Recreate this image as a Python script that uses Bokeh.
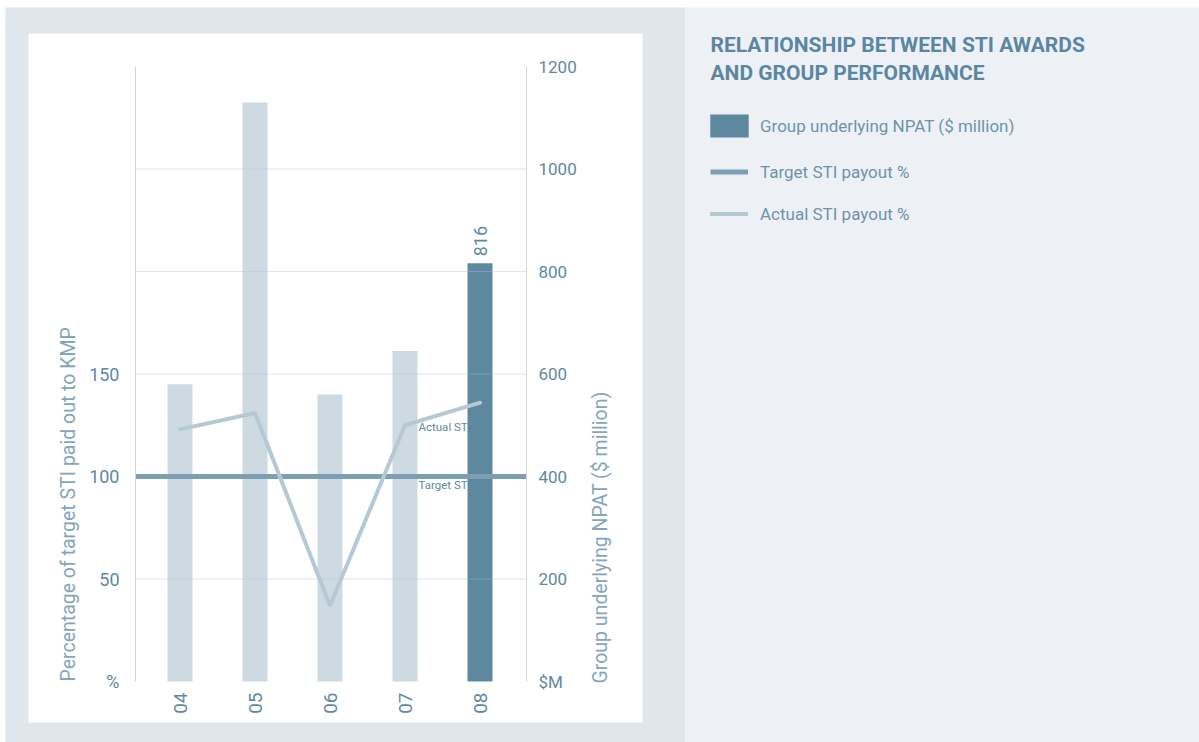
import math
from bokeh.plotting import figure
from bokeh.models import (Range1d, LinearAxis, FixedTicker, Label,
                          BoxAnnotation, Legend, LegendItem, ColumnDataSource)
from bokeh.embed import file_html
from bokeh.resources import INLINE

# ---------------- data ----------------
years = ["04", "05", "06", "07", "08"]
npat = [580, 1130, 560, 645, 816]            # Group underlying NPAT ($ million)
actual_sti = [123, 131, 37, 125, 136]        # Actual STI payout %
target_sti = [100, 100, 100, 100, 100]       # Target STI payout %
highlight_year = "08"
npat_ticks = [0, 200, 400, 600, 800, 1000, 1200]
npat_tick_labels = ["$M", "200", "400", "600", "800", "1000", "1200"]
pct_ticks = [0, 50, 100, 150]
pct_tick_labels = ["%", "50", "100", "150"]
pct_max = 300                                 # left scale top (matches 1200 on right)

# ---------------- style / layout ----------------
FONT = "Roboto"
OUTER = "#dfe6ec"
PANEL_R = "#edf1f5"
BAR_LIGHT = "#cddae2"
BAR_DARK = "#5e87a0"
TARGET_C = "#7c9fb4"
ACTUAL_C = "#b5c9d5"
GRID_C = "#b0c4d0"
AXIS_C = "#c9d6df"
TICK_C = "#5f88a2"
AXLAB_C = "#84a5ba"
TITLE_C = "#5b86a2"
LEG_C = "#6d93ab"

W, H = 1199, 742
CAT0_PX, CAT_STEP_PX = 179.5, 75.0      # pixel centre of first category, spacing
AX_L_PX, AX_R_PX = 135.0, 526.0         # left / right axis lines
Y0_PX, YTOP_PX = 681.0, 66.0            # pixel of 0 and of top tick

x_start = -CAT0_PX / CAT_STEP_PX
x_end = (W - CAT0_PX) / CAT_STEP_PX
ax_left = (AX_L_PX - CAT0_PX) / CAT_STEP_PX
ax_right = (AX_R_PX - CAT0_PX) / CAT_STEP_PX
y_per_px = npat_ticks[-1] / (Y0_PX - YTOP_PX)
y_start = -(H - Y0_PX) * y_per_px
y_end = Y0_PX * y_per_px
pct_scale = pct_max / npat_ticks[-1]

p = figure(width=W, height=H, output_backend="svg", toolbar_location=None,
           x_range=Range1d(x_start, x_end), y_range=Range1d(y_start, y_end),
           y_axis_location="right", min_border=0,
           min_border_left=0, min_border_right=0, min_border_top=0, min_border_bottom=0,
           border_fill_color="white", background_fill_color="white",
           outline_line_color=None)
p.title.visible = False
p.extra_y_ranges = {"pct": Range1d(y_start * pct_scale, y_end * pct_scale),
                    "py": Range1d(H, 0)}
p.extra_x_ranges = {"px": Range1d(0, W)}

# background panels (pixel ranges)
def panel(x0, y0, x1, y1, color):
    p.add_layout(BoxAnnotation(left=x0, right=x1, top=y0, bottom=y1,
                               x_range_name="px", y_range_name="py",
                               fill_color=color, fill_alpha=1.0, line_color=None,
                               level="image"))

panel(5, 7, 685, H, OUTER)
panel(28, 33, 642, 722, "white")
panel(685, 7, W, H, PANEL_R)

# ---------------- glyphs ----------------
xs = list(range(len(years)))
colors = [BAR_DARK if y == highlight_year else BAR_LIGHT for y in years]
src = ColumnDataSource(dict(x=xs, year=years, npat=npat, actual=actual_sti,
                            target=target_sti, color=colors))

bars = p.vbar(x="x", top="npat", width=0.333, fill_color="color", line_color=None, source=src)

grid_src = ColumnDataSource(dict(y=npat_ticks[1:-1]))
p.segment(x0=ax_left, x1=ax_right, y0="y", y1="y", source=grid_src,
          line_color=GRID_C, line_alpha=0.4, line_width=1)

target_r = p.segment(x0=ax_left, x1=ax_right, y0=target_sti[0], y1=target_sti[0],
                     y_range_name="pct", line_color=TARGET_C, line_width=5)
actual_r = p.line(x="x", y="actual", y_range_name="pct", line_color=ACTUAL_C,
                  line_width=4, line_cap="round", source=src)

# ---------------- axes ----------------
p.xgrid.visible = False
p.ygrid.visible = False

ra = p.yaxis[0]
ra.ticker = FixedTicker(ticks=npat_ticks)
ra.major_label_overrides = {t: l for t, l in zip(npat_ticks, npat_tick_labels)}
ra.fixed_location = ax_right
ra.bounds = (npat_ticks[0], npat_ticks[-1])
ra.axis_line_color = AXIS_C
ra.major_tick_line_color = None
ra.minor_tick_line_color = None
ra.major_label_text_color = TICK_C
ra.major_label_text_font = FONT
ra.major_label_text_font_size = "17px"
ra.major_label_text_baseline = "alphabetic"
ra.major_label_standoff = 6

la = LinearAxis(y_range_name="pct", ticker=FixedTicker(ticks=pct_ticks))
la.major_label_overrides = {t: l for t, l in zip(pct_ticks, pct_tick_labels)}
la.fixed_location = ax_left
la.bounds = (0, pct_max)
la.axis_line_color = AXIS_C
la.major_tick_line_color = None
la.minor_tick_line_color = None
la.major_label_text_color = TICK_C
la.major_label_text_font = FONT
la.major_label_text_font_size = "18px"
la.major_label_standoff = 10
p.add_layout(la, "left")

xa = p.xaxis[0]
xa.ticker = FixedTicker(ticks=xs)
xa.major_label_overrides = {i: y for i, y in zip(xs, years)}
xa.fixed_location = 0
xa.major_label_orientation = math.pi / 2
xa.axis_line_color = None
xa.major_tick_line_color = None
xa.minor_tick_line_color = None
xa.major_label_text_color = TICK_C
xa.major_label_text_font = FONT
xa.major_label_text_font_size = "19px"
xa.major_label_standoff = 5

# ---------------- labels ----------------
def px_label(text, x, y, **kw):
    p.add_layout(Label(x=x, y=y, x_range_name="px", y_range_name="py", text=text,
                       text_font=FONT, **kw))

px_label("Percentage of target STI paid out to KMP", 68, 681, angle=math.pi / 2,
         text_align="left", text_baseline="middle", text_font_size="19.5px", text_color=AXLAB_C)
px_label("Group underlying NPAT ($ million)", 600, 683, angle=math.pi / 2,
         text_align="left", text_baseline="middle", text_font_size="19.5px", text_color=AXLAB_C)

p.add_layout(Label(x=xs[-1], y=npat[-1], y_offset=7, text=str(npat[-1]), angle=math.pi / 2,
                   text_align="left", text_baseline="middle", text_font=FONT,
                   text_font_size="18px", text_color=TICK_C))
p.add_layout(Label(x=3.18, y=124, y_range_name="pct", text="Actual STI",
                   text_align="left", text_baseline="middle", text_font=FONT,
                   text_font_size="11.5px", text_color=TICK_C))
p.add_layout(Label(x=3.18, y=96, y_range_name="pct", text="Target STI",
                   text_align="left", text_baseline="middle", text_font=FONT,
                   text_font_size="11.5px", text_color=TICK_C))

px_label("RELATIONSHIP BETWEEN STI AWARDS", 710, 44, text_align="left",
         text_baseline="middle", text_font_style="bold", text_font_size="21px",
         text_color=TITLE_C)
px_label("AND GROUP PERFORMANCE", 710, 72, text_align="left",
         text_baseline="middle", text_font_style="bold", text_font_size="21px",
         text_color=TITLE_C)

# legends (bar swatch drawn 10% inset by Bokeh, so its box is enlarged)
legend_style = dict(padding=0, margin=0, border_line_color=None, background_fill_alpha=0,
                    label_text_font=FONT, label_text_font_size="17px",
                    label_text_color=LEG_C)
legend_bar = Legend(items=[
    LegendItem(label="Group underlying NPAT ($ million)", renderers=[bars],
               index=len(years) - 1)],
    location=(705, H - 140), glyph_width=48, glyph_height=29, label_standoff=7,
    **legend_style)
legend_lines = Legend(items=[
    LegendItem(label="Target STI payout %", renderers=[target_r]),
    LegendItem(label="Actual STI payout %", renderers=[actual_r]),
], location=(710, H - 225), glyph_width=38, glyph_height=23, label_standoff=12,
    spacing=19, **legend_style)
p.add_layout(legend_bar)
p.add_layout(legend_lines)

open("out.html", "w").write(file_html(p, INLINE))
